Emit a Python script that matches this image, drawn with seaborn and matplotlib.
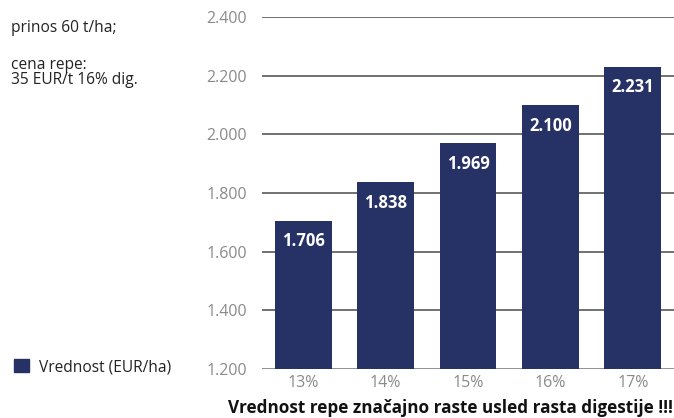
import pandas as pd
import seaborn as sns
import matplotlib.pyplot as plt
from matplotlib.patches import Patch


# Data
digestija = ['13%', '14%', '15%', '16%', '17%']
vrednost = [1706, 1838, 1969, 2100, 2231]
y_ticks = [1200, 1400, 1600, 1800, 2000, 2200, 2400]

df = pd.DataFrame({'digestija': digestija, 'vrednost': vrednost})

sns.set_theme(style='white')
plt.rcParams['font.family'] = ['Open Sans', 'DejaVu Sans']

navy = '#263166'
gray = '#8a8a8a'

fig = plt.figure(figsize=(6.74, 4.18), dpi=100)
ax = fig.add_axes([0.3887, 0.1172, 0.6113, 0.8421])

# Gridlines behind bars
for t in y_ticks:
    ax.axhline(t, color='#666666' if t > 1200 else '#888888', lw=1.3, zorder=0)

sns.barplot(data=df, x='digestija', y='vrednost', color=navy, width=0.69,
            saturation=1, linewidth=0, ax=ax, zorder=2)

ax.set_ylim(1200, 2400)
ax.set_yticks(y_ticks)
ax.set_yticklabels([f'{t:,}'.replace(',', '.') for t in y_ticks])
ax.set_xlabel('')
ax.set_ylabel('')
for s in ax.spines.values():
    s.set_visible(False)
ax.tick_params(axis='y', length=0, pad=11, labelsize=11.5, labelcolor=gray)
ax.tick_params(axis='x', length=0, pad=4, labelsize=11.5, labelcolor=gray)

# Value labels inside bars
for p, v in zip(ax.patches, vrednost):
    ax.annotate(f'{v:,}'.replace(',', '.'),
                (p.get_x() + p.get_width() / 2, p.get_height()),
                xytext=(0, -15), textcoords='offset points',
                ha='center', va='center', color='white',
                fontsize=12, fontweight='bold', zorder=3)

# Left side text
fig.text(0.017, 0.933, 'prinos 60 t/ha;', fontsize=11.2, color='#222222', va='center')
fig.text(0.017, 0.827, 'cena repe:\n35 EUR/t 16% dig.', fontsize=11.2,
         color='#222222', va='center', linespacing=0.92)

# Legend
fig.legend(handles=[Patch(color=navy, label='Vrednost (EUR/ha)')],
           loc='center left', bbox_to_anchor=(0.0, 0.122), frameon=False,
           fontsize=11.2, handlelength=0.95, handleheight=0.95, handletextpad=0.65,
           labelcolor='#222222')

# Caption
fig.text(0.998, 0.025, 'Vrednost repe značajno raste usled rasta digestije !!!',
         ha='right', va='center', fontsize=12.3, fontweight='bold', color='#111111')

fig.savefig('out.png', dpi=100)
